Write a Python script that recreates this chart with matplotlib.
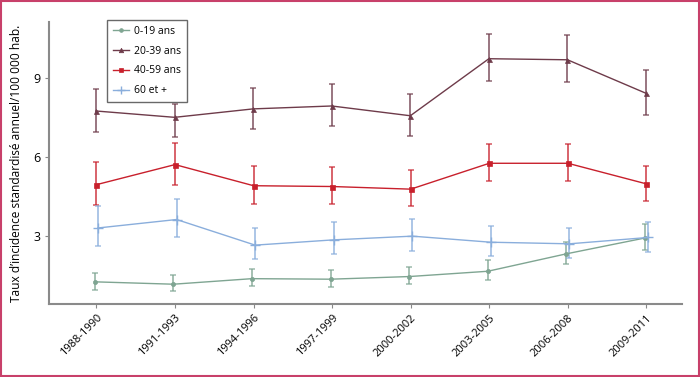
import matplotlib
matplotlib.use("Agg")
import matplotlib.pyplot as plt
import numpy as np

periods = ["1988-1990", "1991-1993", "1994-1996", "1997-1999",
           "2000-2002", "2003-2005", "2006-2008", "2009-2011"]

g0_19 = [1.28, 1.19, 1.40, 1.38, 1.48, 1.68, 2.34, 2.94]
g0_19_lo = [0.97, 0.94, 1.11, 1.09, 1.19, 1.35, 1.95, 2.49]
g0_19_hi = [1.63, 1.52, 1.77, 1.74, 1.84, 2.10, 2.80, 3.48]

g20_39 = [7.75, 7.51, 7.83, 7.94, 7.57, 9.73, 9.69, 8.42]
g20_39_lo = [6.94, 6.78, 7.08, 7.17, 6.82, 8.87, 8.84, 7.61]
g20_39_hi = [8.60, 8.01, 8.63, 8.76, 8.38, 10.65, 10.61, 9.31]

g40_59 = [4.96, 5.72, 4.92, 4.89, 4.79, 5.77, 5.77, 4.99]
g40_59_lo = [4.18, 4.96, 4.23, 4.22, 4.17, 5.09, 5.11, 4.36]
g40_59_hi = [5.83, 6.55, 5.68, 5.64, 5.50, 6.51, 6.51, 5.68]

g60 = [3.32, 3.64, 2.67, 2.87, 3.01, 2.78, 2.72, 2.96]
g60_lo = [2.63, 2.98, 2.14, 2.33, 2.45, 2.24, 2.17, 2.41]
g60_hi = [4.14, 4.41, 3.31, 3.54, 3.66, 3.41, 3.33, 3.56]

plt.rcParams['font.family'] = ['Open Sans', 'DejaVu Sans']

fig = plt.figure(figsize=(7.0, 3.77), dpi=100)
ax = fig.add_axes([0.0704, 0.1936, 0.9036, 0.748])

x = np.arange(len(periods))

series = [
    ("0-19 ans", g0_19, g0_19_lo, g0_19_hi, "#7fa592", "o", 3.0, -0.02),
    ("20-39 ans", g20_39, g20_39_lo, g20_39_hi, "#6e3b4a", "^", 3.6, -0.005),
    ("40-59 ans", g40_59, g40_59_lo, g40_59_hi, "#c8202c", "s", 3.6, 0.0),
    ("60 et +", g60, g60_lo, g60_hi, "#8aaedc", "+", 6.5, 0.02),
]

for label, v, lo, hi, col, mk, ms, dx in series:
    v = np.array(v); lo = np.array(lo); hi = np.array(hi)
    xs = x + dx
    ax.errorbar(xs, v, yerr=[v - lo, hi - v], fmt="none", ecolor=col,
                elinewidth=1.4, capsize=2.5, capthick=1.2, alpha=0.7, zorder=2)
    ax.plot(xs, v, color=col, lw=1.0, marker=mk, ms=ms, mew=1.0 if mk == "+" else 0.5,
            label=label, zorder=3)

ax.set_xlim(-0.6, 7.45)
ax.set_ylim(0.44, 11.12)
ax.set_yticks([3, 6, 9])
ax.set_xticks(x)
ax.set_xticklabels(periods, rotation=45, ha="right", rotation_mode="anchor", fontsize=8)
ax.tick_params(axis="y", labelsize=9, length=3, color="#888888")
ax.tick_params(axis="x", length=3, color="#888888", pad=3)

for s in ["top", "right"]:
    ax.spines[s].set_visible(False)
for s in ["left", "bottom"]:
    ax.spines[s].set_color("#8a8a8a")
    ax.spines[s].set_linewidth(1.5)

ax.set_ylabel("Taux d’incidence standardisé annuel/100 000 hab.", fontsize=8.6, labelpad=7)

leg = ax.legend(loc="upper left", bbox_to_anchor=(0.091, 1.007), fontsize=7.5,
                frameon=True, fancybox=False, edgecolor="#444444",
                handlelength=1.6, handletextpad=0.5, labelspacing=0.85,
                borderpad=0.55, borderaxespad=0.0, markerscale=0.9)
leg.get_frame().set_linewidth(1.0)

fig.patches.append(plt.Rectangle((0.002, 0.003), 0.996, 0.994, transform=fig.transFigure,
                                 fill=False, edgecolor="#c8406a", lw=1.5))

fig.savefig("out.png", dpi=100)
